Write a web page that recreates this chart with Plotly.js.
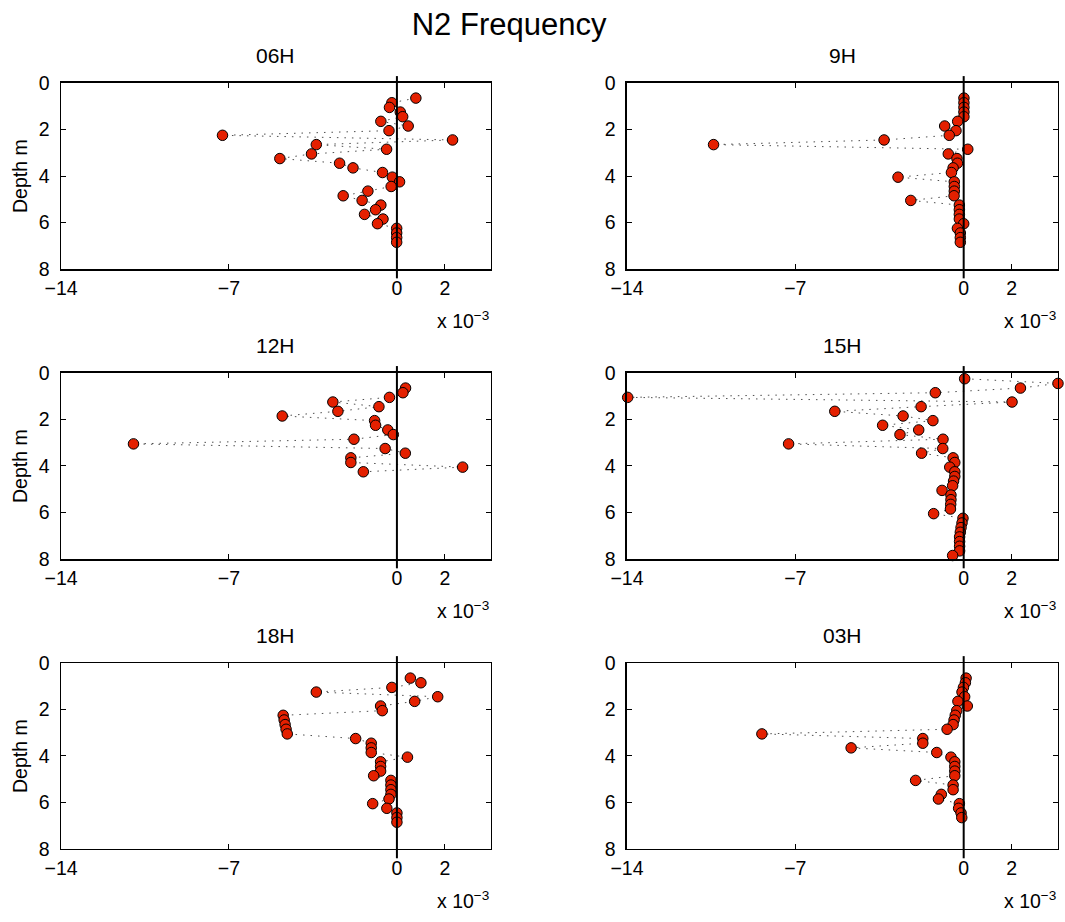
<!DOCTYPE html>
<html><head><meta charset="utf-8">
<script src="https://cdn.plot.ly/plotly-3.0.1.min.js"></script>
<style>html,body{margin:0;padding:0;background:#fff}</style>
</head><body><div id="chart" style="width:1065px;height:922px"></div>
<script>
const panelTitles = ["06H", "9H", "12H", "15H", "18H", "03H"];

const depth06 = [0.65,0.85,1.05,1.25,1.45,1.65,1.85,2.05,2.25,2.45,2.65,2.85,3.05,3.25,3.45,3.65,3.85,4.05,4.25,4.45,4.65,4.85,5.05,5.25,5.45,5.65,5.85,6.05,6.25,6.45,6.65,6.85];
const n2_06 = [0.79,-0.21,-0.31,0.14,0.24,-0.67,0.47,-0.33,-7.27,2.32,-3.36,-0.43,-3.56,-4.88,-2.39,-1.83,-0.60,-0.19,0.11,-0.24,-1.21,-2.24,-1.45,-0.67,-0.89,-1.35,-0.58,-0.81,-0.01,-0.01,-0.01,-0.01];

const depth09 = [0.65,0.85,1.05,1.25,1.45,1.65,1.85,2.05,2.25,2.45,2.65,2.85,3.05,3.25,3.45,3.65,3.85,4.05,4.25,4.45,4.65,4.85,5.05,5.25,5.45,5.65,5.85,6.05,6.25,6.45,6.65,6.85];
const n2_09 = [0.01,0.01,0.01,0.01,0.01,-0.25,-0.79,-0.32,-0.60,-3.31,-10.40,0.17,-0.64,-0.28,-0.26,-0.44,-0.51,-2.73,-0.39,-0.39,-0.39,-0.40,-2.20,-0.18,-0.18,-0.18,-0.18,0.0,-0.26,-0.14,-0.14,-0.14];

const depth12 = [0.65,0.85,1.05,1.25,1.45,1.65,1.85,2.05,2.25,2.45,2.65,2.85,3.05,3.25,3.45,3.65,3.85,4.05,4.25];
const n2_12 = [0.36,0.25,-0.31,-2.67,-0.75,-2.46,-4.78,-0.93,-0.89,-0.38,-0.15,-1.79,-10.98,-0.49,0.35,-1.92,-1.92,2.74,-1.40];

const depth15 = [0.25,0.45,0.65,0.85,1.05,1.25,1.45,1.65,1.85,2.05,2.25,2.45,2.65,2.85,3.05,3.25,3.45,3.65,3.85,4.05,4.25,4.45,4.65,4.85,5.05,5.25,5.45,5.65,5.85,6.05,6.25,6.45,6.65,6.85,7.05,7.25,7.45,7.65,7.85];
const n2_15 = [0.04,3.92,2.36,-1.18,-13.97,2.01,-1.77,-5.36,-2.52,-1.28,-3.37,-1.87,-2.65,-0.86,-7.28,-0.87,-1.75,-0.44,-0.37,-0.58,-0.37,-0.37,-0.42,-0.46,-0.90,-0.53,-0.53,-0.54,-0.55,-1.25,-0.03,-0.07,-0.11,-0.14,-0.17,-0.17,-0.17,-0.17,-0.46];

const depth18 = [0.65,0.85,1.05,1.25,1.45,1.65,1.85,2.05,2.25,2.45,2.65,2.85,3.05,3.25,3.45,3.65,3.85,4.05,4.25,4.45,4.65,4.85,5.05,5.25,5.45,5.65,5.85,6.05,6.25,6.45,6.65,6.85];
const n2_18 = [0.56,1.00,-0.21,-3.36,1.70,0.74,-0.68,-0.61,-4.74,-4.70,-4.66,-4.62,-4.57,-1.72,-1.07,-1.07,-1.07,0.44,-0.68,-0.68,-0.68,-0.97,-0.25,-0.25,-0.25,-0.25,-0.33,-1.01,-0.42,0.0,0.0,0.0];

const depth03 = [0.65,0.85,1.05,1.25,1.45,1.65,1.85,2.05,2.25,2.45,2.65,2.85,3.05,3.25,3.45,3.65,3.85,4.05,4.25,4.45,4.65,4.85,5.05,5.25,5.45,5.65,5.85,6.05,6.25,6.45,6.65];
const n2_03 = [0.10,0.07,-0.01,-0.07,0.04,-0.24,0.15,-0.29,-0.35,-0.40,-0.44,-0.69,-8.39,-1.70,-1.70,-4.68,-1.12,-0.53,-0.37,-0.37,-0.37,-0.37,-2.00,-0.44,-0.44,-0.93,-1.05,-0.18,-0.21,-0.11,-0.08];

const xTickVals = [-14, -7, 0, 2];
const yTickVals = [0, 2, 4, 6, 8];
const xRange = [-14, 3.92];
const yRange = [8, 0];

const depths = [depth06, depth09, depth12, depth15, depth18, depth03];
const values = [n2_06, n2_09, n2_12, n2_15, n2_18, n2_03];

const colDomains = [[0.0573, 0.4610], [0.5887, 0.9934]];
const rowDomains = [[0.7082, 0.9100], [0.3937, 0.5955], [0.0792, 0.2809]];

const FONT = "Liberation Sans, Arial, Helvetica, sans-serif";
const traces = [];
const layout = {
  width: 1065, height: 922,
  margin: {l: 0, r: 0, t: 0, b: 0},
  paper_bgcolor: "#ffffff", plot_bgcolor: "#ffffff",
  showlegend: false,
  font: {family: FONT, color: "#000", size: 19.5},
  title: {text: "N2 Frequency", x: 0.478, xanchor: "center", y: 0.974, yanchor: "middle",
          font: {family: FONT, size: 31, color: "#000"}},
  shapes: [], annotations: []
};

for (let i = 0; i < 6; i++) {
  const n = i + 1;
  const xa = "x" + (n === 1 ? "" : n), ya = "y" + (n === 1 ? "" : n);
  const xk = "xaxis" + (n === 1 ? "" : n), yk = "yaxis" + (n === 1 ? "" : n);
  const row = Math.floor(i / 2), col = i % 2;
  traces.push({
    type: "scatter", mode: "lines+markers",
    x: values[i], y: depths[i], xaxis: xa, yaxis: ya,
    cliponaxis: false,
    line: {color: "rgba(60,60,60,0.9)", width: 1, dash: "1.5px,6px"},
    marker: {size: 10.5, color: "#e42000", line: {color: "#000", width: 1}},
    hoverinfo: "x+y"
  });
  layout[xk] = {
    domain: colDomains[col], anchor: ya, range: xRange,
    tickvals: xTickVals, ticks: "inside", ticklen: 5, tickwidth: 1, tickcolor: "#000",
    ticklabelstandoff: 1,
    showline: true, linecolor: "#000", linewidth: 1.5, mirror: "ticks",
    showgrid: false, zeroline: false,
    tickfont: {family: FONT, size: 19.5, color: "#000"}
  };
  layout[yk] = {
    domain: rowDomains[row], anchor: xa, range: yRange,
    tickvals: yTickVals, ticks: "inside", ticklen: 5, tickwidth: 1, tickcolor: "#000",
    ticklabelstandoff: 6,
    showline: true, linecolor: "#000", linewidth: 1.5, mirror: "ticks",
    showgrid: false, zeroline: false,
    tickfont: {family: FONT, size: 19.5, color: "#000"}
  };
  layout.shapes.push({
    type: "line", xref: xa, yref: ya + " domain", x0: 0, x1: 0, y0: -0.05, y1: 1.037,
    line: {color: "#000", width: 2}, layer: "above"
  });
  layout.annotations.push({
    text: panelTitles[i], xref: xa + " domain", yref: ya + " domain",
    x: 0.5, y: 1, yshift: 14, xanchor: "center", yanchor: "bottom", showarrow: false,
    font: {family: FONT, size: 21, color: "#000"}
  });
  layout.annotations.push({
    text: "x 10<sup>\u22123</sup>", xref: xa + " domain", yref: ya + " domain",
    x: 1, y: 0, yshift: -37, xanchor: "right", yanchor: "top", showarrow: false,
    font: {family: FONT, size: 19.5, color: "#000"}
  });
  if (col === 0) {
    layout.annotations.push({
      text: "Depth m", xref: xa + " domain", yref: ya + " domain",
      x: 0, xshift: -41, y: 0.5, xanchor: "center", yanchor: "middle", textangle: -90,
      showarrow: false, font: {family: FONT, size: 19.5, color: "#000"}
    });
  }
}

Plotly.newPlot("chart", traces, layout, {displayModeBar: false, staticPlot: true});
</script>
</body></html>
